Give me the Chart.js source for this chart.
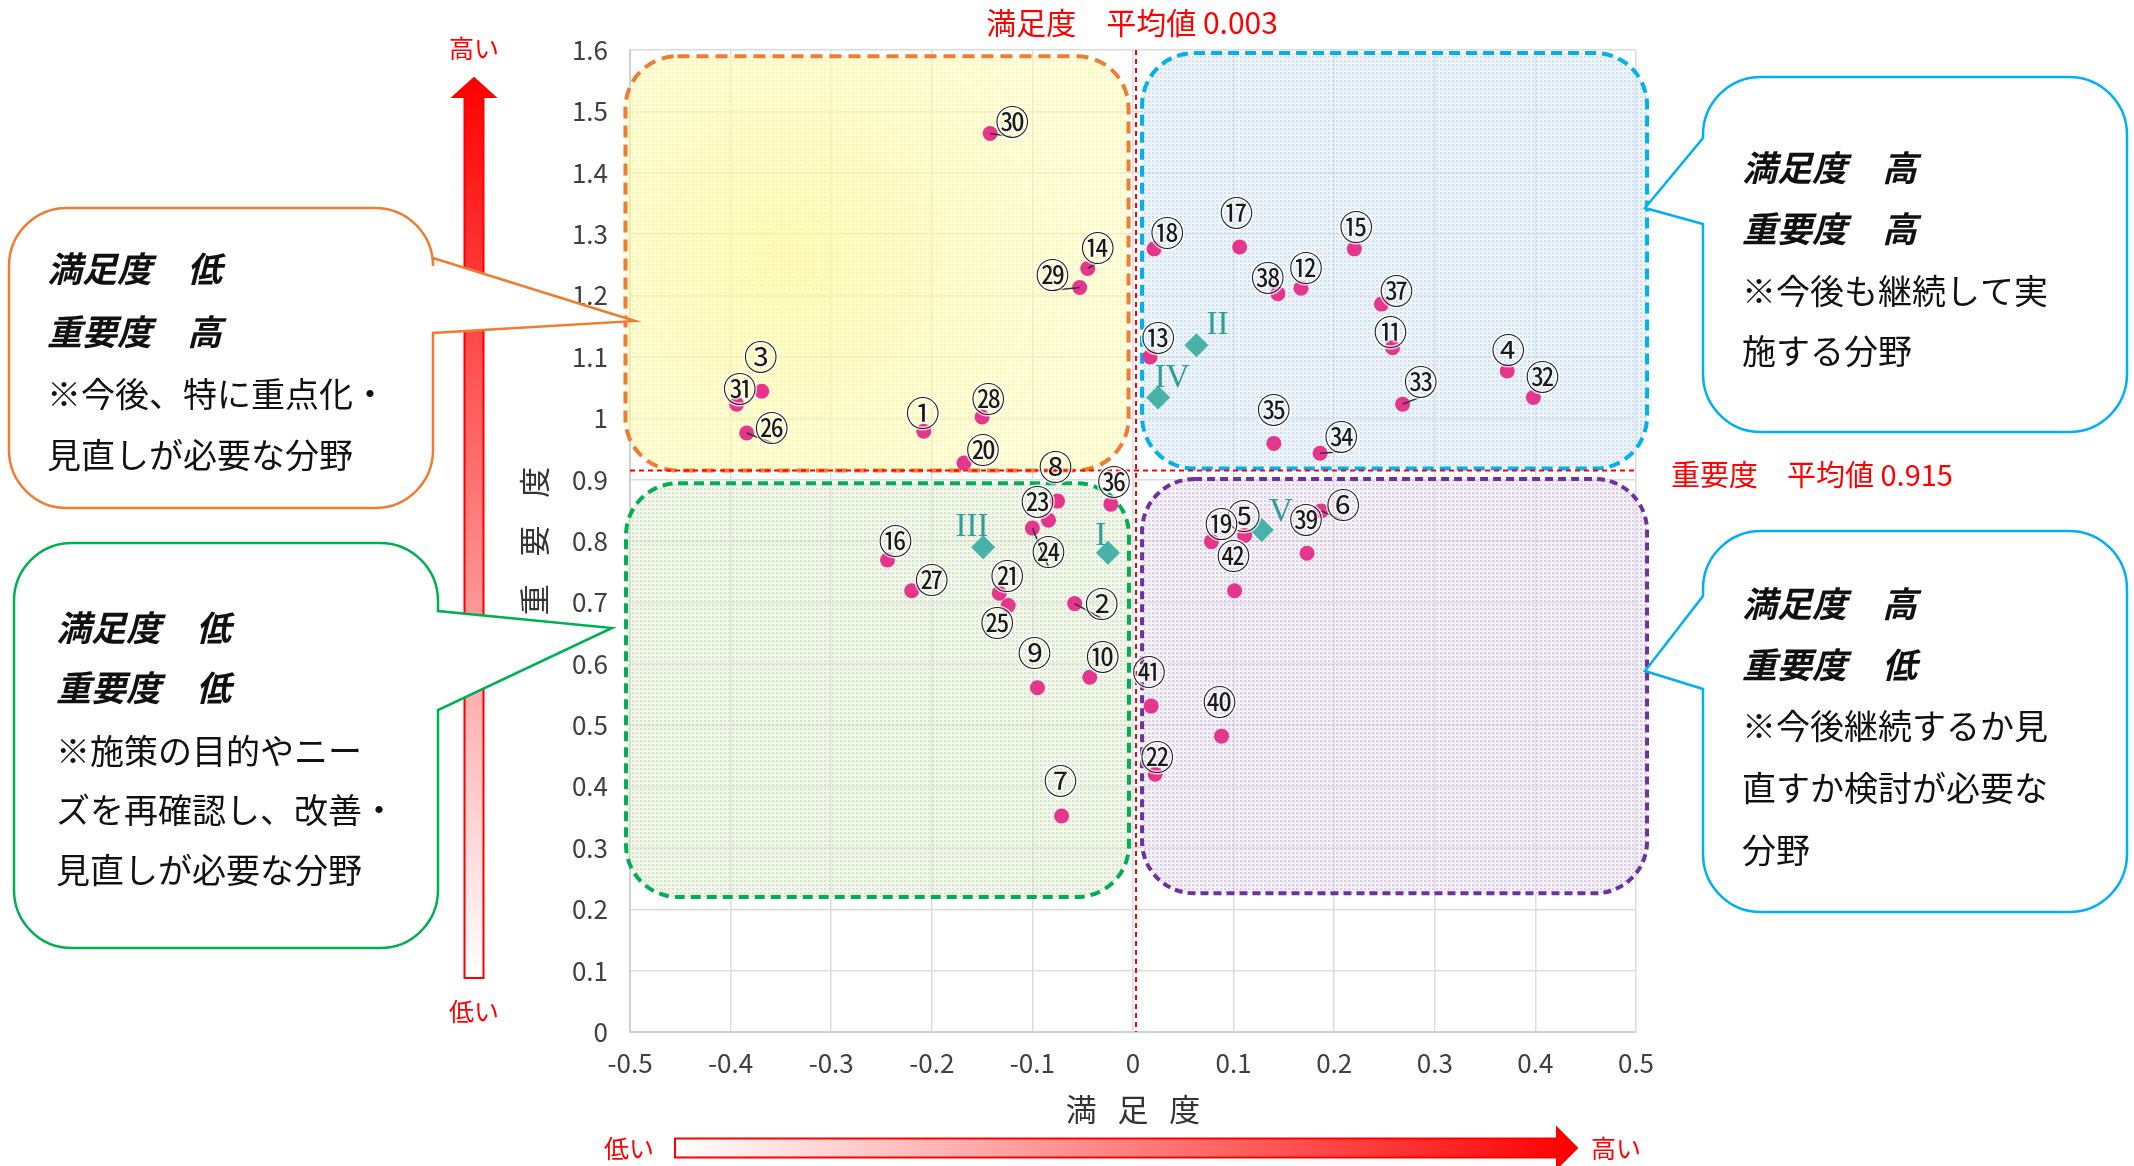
<!DOCTYPE html>
<html lang="ja">
<head>
<meta charset="utf-8">
<script src="https://cdn.jsdelivr.net/npm/chart.js@4/dist/chart.umd.min.js"></script>
<style>
html, body { margin: 0; background: #fff; overflow: hidden; }
canvas { display: block; }
</style>
</head>
<body>
<canvas id="matrix" width="2134" height="1166"></canvas>
<script>
// 施策番号と 満足度・重要度
const ids = [1, 2, 3, 4, 5, 6, 7, 8, 9, 10, 11, 12, 13, 14, 15, 16, 17, 18, 19, 20, 21,
    22, 23, 24, 25, 26, 27, 28, 29, 30, 31, 32, 33, 34, 35, 36, 37, 38, 39, 40, 41, 42];
const satisfaction = [-0.208, -0.058, -0.369, 0.372, 0.111, 0.187, -0.071, -0.075, -0.095, -0.043,
    0.258, 0.167, 0.017, -0.045, 0.220, -0.244, 0.106, 0.021, 0.078, -0.168, -0.133,
    0.022, -0.084, -0.100, -0.124, -0.384, -0.220, -0.150, -0.053, -0.142, -0.394,
    0.398, 0.268, 0.186, 0.140, -0.022, 0.247, 0.144, 0.173, 0.088, 0.018, 0.101];
const importance = [0.979, 0.698, 1.044, 1.077, 0.809, 0.849, 0.352, 0.865, 0.561, 0.578,
    1.115, 1.212, 1.100, 1.244, 1.276, 0.769, 1.279, 1.276, 0.799, 0.927, 0.715,
    0.420, 0.834, 0.821, 0.695, 0.976, 0.719, 1.002, 1.213, 1.464, 1.023,
    1.034, 1.023, 0.943, 0.959, 0.860, 1.186, 1.203, 0.780, 0.482, 0.531, 0.719];
// 番号ラベルの置き場所(データ座標)
const labelSat = [-0.209, -0.031, -0.370, 0.373, 0.110, 0.209, -0.072, -0.077, -0.098, -0.030,
    0.256, 0.172, 0.025, -0.035, 0.222, -0.236, 0.103, 0.034, 0.088, -0.149, -0.125,
    0.024, -0.095, -0.084, -0.135, -0.359, -0.200, -0.144, -0.080, -0.120, -0.391,
    0.407, 0.286, 0.207, 0.140, -0.019, 0.262, 0.134, 0.172, 0.086, 0.016, 0.100];
const labelImp = [1.008, 0.698, 1.099, 1.111, 0.840, 0.858, 0.409, 0.920, 0.618, 0.611,
    1.141, 1.245, 1.130, 1.278, 1.311, 0.800, 1.334, 1.302, 0.828, 0.948, 0.743,
    0.448, 0.864, 0.782, 0.667, 0.984, 0.736, 1.032, 1.233, 1.483, 1.048,
    1.067, 1.059, 0.970, 1.014, 0.896, 1.208, 1.228, 0.834, 0.537, 0.586, 0.775];
const leaders = [2, 6, 14, 24, 26, 29, 30, 33, 34];

// 分野ごとの平均
const groupNames = ['I', 'II', 'III', 'IV', 'V'];
const groupSat = [-0.025, 0.063, -0.149, 0.025, 0.128];
const groupImp = [0.781, 1.119, 0.790, 1.034, 0.818];
const groupLabelSat = [-0.032, 0.084, -0.160, 0.039, 0.147];
const groupLabelImp = [0.807, 1.151, 0.823, 1.065, 0.846];

const satAvg = 0.003;
const impAvg = 0.915;
const xTicks = [-0.5, -0.4, -0.3, -0.2, -0.1, 0, 0.1, 0.2, 0.3, 0.4, 0.5];
const yTicks = [0, 0.1, 0.2, 0.3, 0.4, 0.5, 0.6, 0.7, 0.8, 0.9, 1, 1.1, 1.2, 1.3, 1.4, 1.5, 1.6];

const FONT = '"Noto Sans CJK JP", "Noto Sans", sans-serif';

const circled = n => n <= 20 ? String.fromCharCode(0x2460 + n - 1)
    : n <= 35 ? String.fromCharCode(0x3251 + n - 21)
    : String.fromCharCode(0x32B1 + n - 36);

const makePattern = (ctx, base, dot) => {
    const p = document.createElement('canvas');
    p.width = p.height = 4;
    const g = p.getContext('2d');
    g.fillStyle = base; g.fillRect(0, 0, 4, 4);
    g.fillStyle = dot; g.fillRect(0, 0, 2, 2); g.fillRect(2, 2, 1, 1);
    return ctx.createPattern(p, 'repeat');
};

// 四象限の囲み(データ座標)
const zones = [
    { x0: -0.5045, x1: -0.0044, y0: 0.915, y1: 1.590, stroke: '#ed7d31', base: 'rgba(255,253,205,0.5)', dot: 'rgba(248,242,120,0.5)', dash: [12, 7] },
    { x0: 0.009, x1: 0.511, y0: 0.918, y1: 1.595, stroke: '#00b0f0', base: 'rgba(228,237,248,0.5)', dot: 'rgba(160,196,234,0.45)', dash: [11, 6] },
    { x0: -0.504, x1: -0.004, y0: 0.220, y1: 0.894, stroke: '#00b050', base: 'rgba(236,243,228,0.5)', dot: 'rgba(180,210,150,0.5)', dash: [10, 6] },
    { x0: 0.009, x1: 0.511, y0: 0.226, y1: 0.901, stroke: '#7030a0', base: 'rgba(240,234,246,0.5)', dot: 'rgba(175,152,210,0.45)', dash: [8, 5] }
];

const callouts = [
    { x: 9, y: 208, w: 424, h: 300, side: 'right', p1: 258, p2: 333, tip: [635, 321], color: '#ed7d31', tx: 47,
      lines: ['満足度　低', '重要度　高', '※今後、特に重点化・', '見直しが必要な分野'], ly: [269, 332, 394, 455] },
    { x: 14, y: 543, w: 424, h: 405, side: 'right', p1: 611, p2: 710, tip: [612, 628], color: '#00b050', tx: 56,
      lines: ['満足度　低', '重要度　低', '※施策の目的やニー', 'ズを再確認し、改善・', '見直しが必要な分野'], ly: [628, 688, 751, 810, 870] },
    { x: 1703, y: 77, w: 424, h: 355, side: 'left', p1: 138, p2: 224, tip: [1645, 208], color: '#00b0f0', tx: 1742,
      lines: ['満足度　高', '重要度　高', '※今後も継続して実', '施する分野'], ly: [168, 229, 291, 351] },
    { x: 1703, y: 531, w: 424, h: 381, side: 'left', p1: 596, p2: 689, tip: [1645, 671], color: '#00b0f0', tx: 1742,
      lines: ['満足度　高', '重要度　低', '※今後継続するか見', '直すか検討が必要な', '分野'], ly: [604, 665, 726, 788, 850] }
];

const calloutPath = (ctx, c) => {
    const { x, y, w, h } = c, r = 58;
    ctx.beginPath();
    ctx.moveTo(x + r, y);
    ctx.lineTo(x + w - r, y);
    ctx.arcTo(x + w, y, x + w, y + r, r);
    if (c.side === 'right') {
        ctx.lineTo(x + w, c.p1); ctx.lineTo(c.tip[0], c.tip[1]); ctx.lineTo(x + w, c.p2);
    }
    ctx.lineTo(x + w, y + h - r);
    ctx.arcTo(x + w, y + h, x + w - r, y + h, r);
    ctx.lineTo(x + r, y + h);
    ctx.arcTo(x, y + h, x, y + h - r, r);
    if (c.side === 'left') {
        ctx.lineTo(x, c.p2); ctx.lineTo(c.tip[0], c.tip[1]); ctx.lineTo(x, c.p1);
    }
    ctx.lineTo(x, y + r);
    ctx.arcTo(x, y, x + r, y, r);
    ctx.closePath();
};

const decorations = {
    id: 'decorations',
    beforeDatasetsDraw(chart) {
        const { ctx, scales: { x, y }, chartArea: area } = chart;
        ctx.save();
        zones.forEach((z, i) => {
            const l = x.getPixelForValue(z.x0), r = x.getPixelForValue(z.x1);
            const t = y.getPixelForValue(z.y1), b = y.getPixelForValue(z.y0);
            ctx.beginPath();
            ctx.roundRect(l, t, r - l, b - t, 52);
            ctx.fillStyle = makePattern(ctx, z.base, z.dot);
            ctx.fill();
            if (i === 0) {
                const g = ctx.createRadialGradient(l + 160, t + 200, 10, l + 160, t + 200, 300);
                g.addColorStop(0, 'rgba(255,242,110,0.3)');
                g.addColorStop(1, 'rgba(255,248,170,0)');
                ctx.fillStyle = g;
                ctx.fill();
            }
            ctx.setLineDash(z.dash);
            ctx.lineWidth = 4;
            ctx.strokeStyle = z.stroke;
            ctx.stroke();
        });
        // 平均値の線
        ctx.setLineDash([5, 4]);
        ctx.lineWidth = 2;
        ctx.strokeStyle = '#ff0000';
        const ax = x.getPixelForValue(satAvg), ay = y.getPixelForValue(impAvg);
        ctx.beginPath();
        ctx.moveTo(ax, area.top); ctx.lineTo(ax, area.bottom);
        ctx.moveTo(area.left, ay); ctx.lineTo(area.right, ay);
        ctx.stroke();
        ctx.restore();
    },
    afterDatasetsDraw(chart) {
        const { ctx, scales: { x, y } } = chart;
        ctx.save();
        ctx.strokeStyle = '#333';
        ctx.lineWidth = 1.5;
        leaders.forEach(id => {
            const i = ids.indexOf(id);
            ctx.beginPath();
            ctx.moveTo(x.getPixelForValue(satisfaction[i]), y.getPixelForValue(importance[i]));
            ctx.lineTo(x.getPixelForValue(labelSat[i]), y.getPixelForValue(labelImp[i]) + 15);
            ctx.stroke();
        });
        ctx.textAlign = 'center';
        ctx.textBaseline = 'middle';
        ctx.font = `34px ${FONT}`;
        ctx.fillStyle = '#1a1a1a';
        ctx.strokeStyle = 'rgba(255,255,255,0.7)';
        ctx.lineWidth = 3;
        ids.forEach((id, i) => {
            const px = x.getPixelForValue(labelSat[i]), py = y.getPixelForValue(labelImp[i]);
            ctx.strokeText(circled(id), px, py);
            ctx.fillText(circled(id), px, py);
        });
        ctx.font = '33px "Liberation Serif", "DejaVu Serif", serif';
        ctx.fillStyle = '#2e9e98';
        groupNames.forEach((n, i) => {
            ctx.fillText(n, x.getPixelForValue(groupLabelSat[i]), y.getPixelForValue(groupLabelImp[i]));
        });
        ctx.restore();
    },
    afterDraw(chart) {
        const { ctx, scales: { x, y }, chartArea: area } = chart;
        ctx.save();
        // 平均値の文字
        ctx.fillStyle = '#ff0000';
        ctx.textBaseline = 'middle';
        ctx.font = `30px ${FONT}`;
        ctx.textAlign = 'center';
        ctx.fillText(`満足度　平均値 ${satAvg}`, x.getPixelForValue(satAvg) - 4, 23);
        ctx.font = `29px ${FONT}`;
        ctx.textAlign = 'left';
        ctx.fillText(`重要度　平均値 ${impAvg}`, area.right + 35, y.getPixelForValue(impAvg) + 5);

        // 縦の矢印(低い→高い)
        let g = ctx.createLinearGradient(0, 978, 0, 78);
        g.addColorStop(0, '#ffffff');
        g.addColorStop(1, '#ff0000');
        ctx.beginPath();
        ctx.moveTo(464.5, 978); ctx.lineTo(464.5, 97); ctx.lineTo(453, 97); ctx.lineTo(474, 78);
        ctx.lineTo(495, 97); ctx.lineTo(483.5, 97); ctx.lineTo(483.5, 978); ctx.closePath();
        ctx.fillStyle = g; ctx.fill();
        ctx.strokeStyle = '#ff0000'; ctx.lineWidth = 2; ctx.stroke();
        // 横の矢印
        g = ctx.createLinearGradient(675, 0, 1576, 0);
        g.addColorStop(0, '#ffffff');
        g.addColorStop(1, '#ff0000');
        ctx.beginPath();
        ctx.moveTo(675, 1138.5); ctx.lineTo(1557, 1138.5); ctx.lineTo(1557, 1128); ctx.lineTo(1577, 1148);
        ctx.lineTo(1557, 1168); ctx.lineTo(1557, 1157.5); ctx.lineTo(675, 1157.5); ctx.closePath();
        ctx.fillStyle = g; ctx.fill(); ctx.stroke();

        ctx.fillStyle = '#ff0000';
        ctx.font = `25px ${FONT}`;
        ctx.textAlign = 'center';
        ctx.fillText('高い', 474, 48);
        ctx.fillText('低い', 474, 1011);
        ctx.fillText('低い', 629, 1148);
        ctx.fillText('高い', 1616, 1148);

        // 吹き出し
        callouts.forEach(c => {
            calloutPath(ctx, c);
            ctx.fillStyle = '#ffffff';
            ctx.fill();
            ctx.lineWidth = 2.5;
            ctx.strokeStyle = c.color;
            ctx.stroke();
            ctx.fillStyle = '#111';
            ctx.textAlign = 'left';
            c.lines.forEach((line, k) => {
                ctx.font = k < 2 ? `italic bold 35px ${FONT}` : `34px ${FONT}`;
                ctx.fillText(line, c.tx, c.ly[k]);
            });
        });
        ctx.restore();
    }
};

Chart.defaults.font.family = FONT;
Chart.defaults.color = '#404040';

new Chart(document.getElementById('matrix'), {
    type: 'scatter',
    data: {
        datasets: [
            {
                label: '施策',
                data: ids.map((id, i) => ({ x: satisfaction[i], y: importance[i] })),
                backgroundColor: '#e6358c',
                borderWidth: 0,
                pointRadius: 7.5,
                pointHoverRadius: 7.5
            },
            {
                label: '分野',
                data: groupNames.map((n, i) => ({ x: groupSat[i], y: groupImp[i] })),
                backgroundColor: '#48b2a8',
                borderWidth: 0,
                pointStyle: 'rectRot',
                pointRadius: 12,
                pointHoverRadius: 12
            }
        ]
    },
    options: {
        responsive: false,
        animation: false,
        devicePixelRatio: 1,
        layout: { padding: { left: 512, right: 498, top: 50, bottom: 34 } },
        plugins: { legend: { display: false }, tooltip: { enabled: false } },
        scales: {
            x: {
                type: 'linear',
                min: -0.5,
                max: 0.5,
                afterFit: s => { s.height = 100; },
                afterBuildTicks: s => { s.ticks = xTicks.map(v => ({ value: v })); },
                grid: { color: '#dcdcdc', lineWidth: 1.5, drawTicks: false },
                border: { color: '#d0d0d0', width: 2 },
                ticks: { padding: 16, font: { size: 26 }, color: '#404040', callback: v => String(Math.round(v * 10) / 10) },
                title: { display: true, text: '満   足   度', font: { size: 31 }, color: '#333', padding: 4 }
            },
            y: {
                type: 'linear',
                min: 0,
                max: 1.6,
                afterFit: s => { s.width = 118; },
                afterBuildTicks: s => { s.ticks = yTicks.map(v => ({ value: v })); },
                grid: { color: '#dcdcdc', lineWidth: 1.5, drawTicks: false },
                border: { color: '#d0d0d0', width: 2 },
                ticks: { padding: 22, font: { size: 26 }, color: '#404040', callback: v => String(Math.round(v * 10) / 10) },
                title: { display: true, text: '重    要    度', font: { size: 31 }, color: '#333', padding: 4 }
            }
        }
    },
    plugins: [decorations]
});
</script>
</body>
</html>
